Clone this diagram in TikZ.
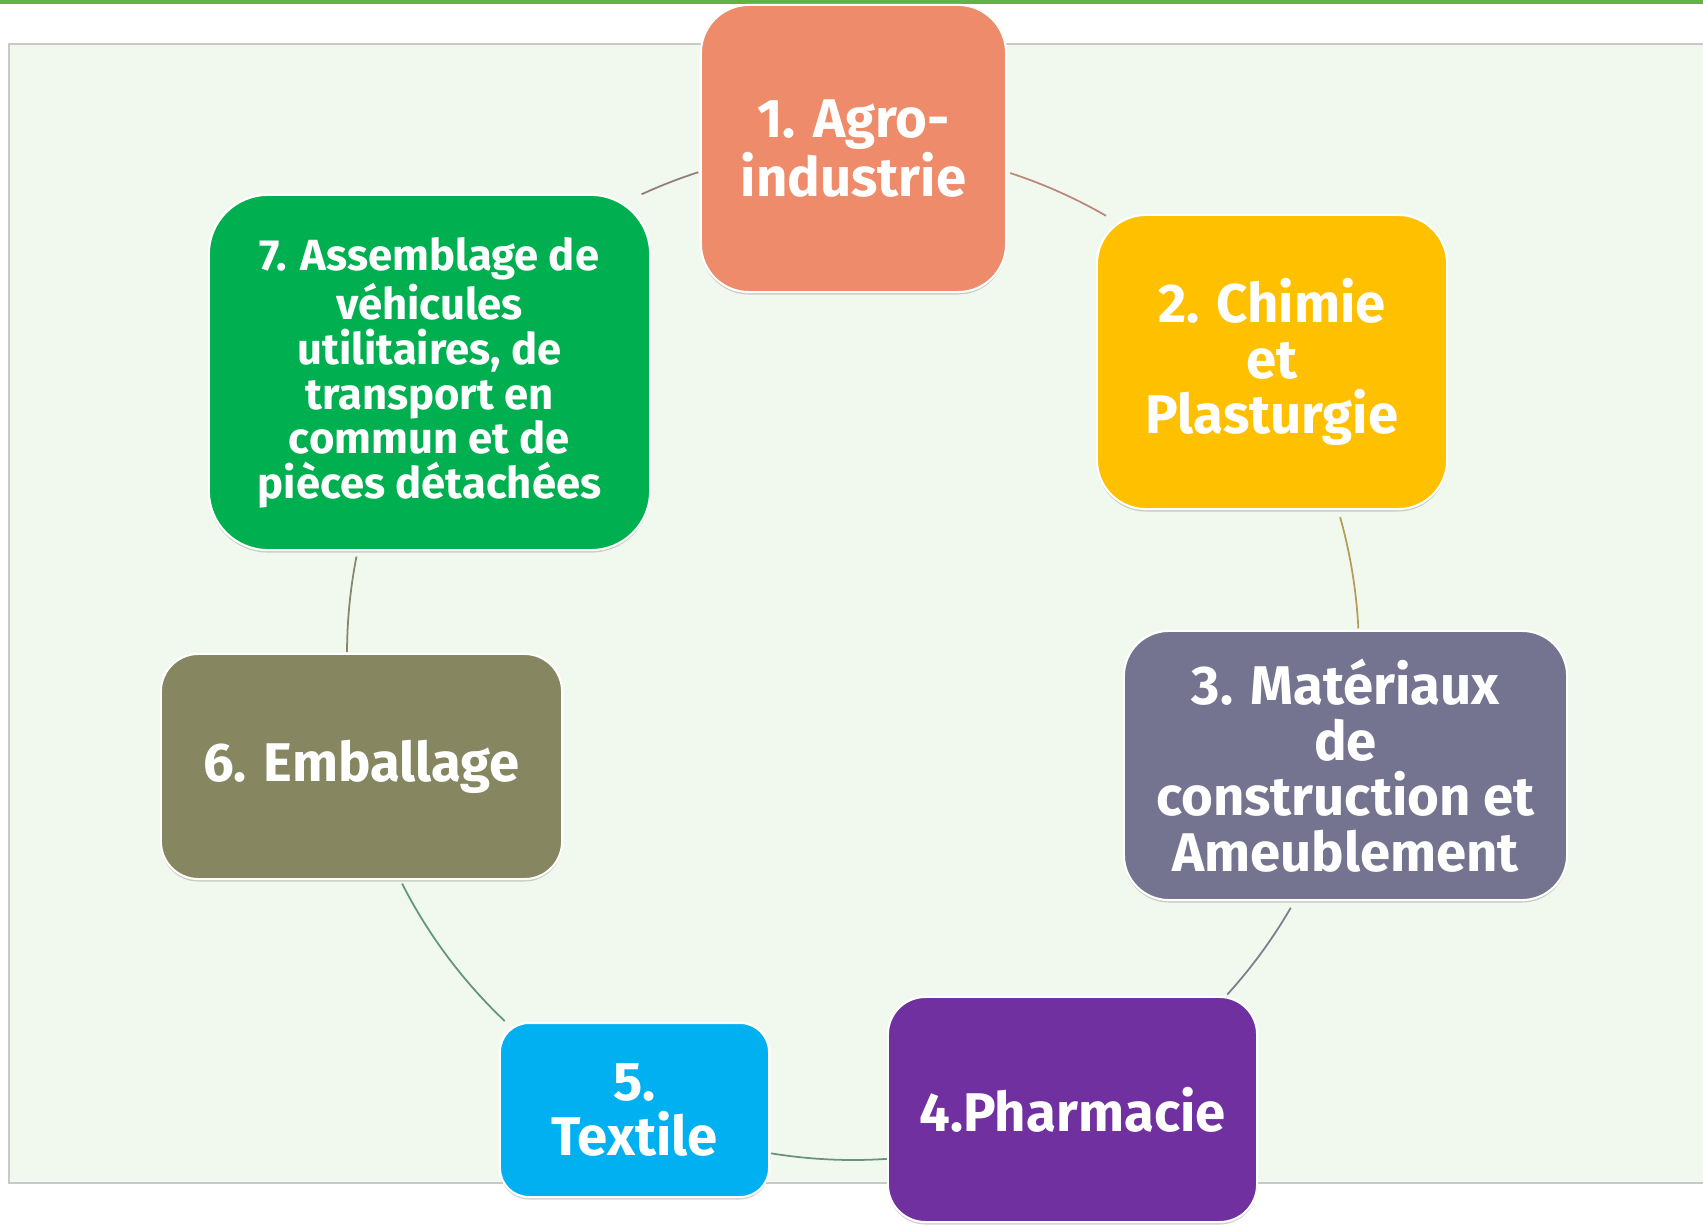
\documentclass[tikz,border=0pt]{standalone}
\usepackage{fontspec}
\setmainfont{Fira Sans}
\usetikzlibrary{calc,shadows}
\definecolor{cA}{HTML}{EE8B6A}
\definecolor{cB}{HTML}{FFC000}
\definecolor{cC}{HTML}{757490}
\definecolor{cD}{HTML}{7030A0}
\definecolor{cE}{HTML}{00B0F0}
\definecolor{cF}{HTML}{868660}
\definecolor{cG}{HTML}{00B050}
\definecolor{topgreen}{HTML}{62B346}
\definecolor{bgfill}{HTML}{F1F9EE}
\definecolor{bgline}{HTML}{C9C9C9}
\definecolor{arcgray}{HTML}{8E8A86}
\begin{document}
\begin{tikzpicture}[x=0.01cm,y=0.01cm,
  box/.style={draw=white, line width=0.6pt, text=white, align=center, inner sep=0pt,
    font=\bfseries\fontsize{15.5}{15.8}\selectfont,
    drop shadow={shadow xshift=0pt, shadow yshift=-0.7pt, opacity=0.3, fill=black!60}},
  smallbox/.style={box, font=\bfseries\fontsize{12.4}{12.7}\selectfont},
  cyclearc/.style={draw=arcgray, line width=0.5pt}]
\useasboundingbox (0,0) rectangle (1703,-1225);
\fill[white] (0,0) rectangle (1703,-1225);
% background panel
\fill[bgfill] (9,-44) rectangle (1720,-1183);
\draw[bgline, line width=0.6pt] (9,-44) rectangle (1720,-1183);
% top green bar
\fill[topgreen] (0,0) rectangle (1703,-4.5);
% circle centre and arc end points
\coordinate (c) at (853,-654);
\foreach \nm/\ang in {a12s/71.9, a23s/15.7, a34s/-30.1, a45s/-86.0, a56s/226.5, a67s/179.8, a71s/114.7}
  \coordinate (\nm) at ($(c)+(\ang:506)$);
\draw[cyclearc, draw=cA!45!arcgray] (a12s) arc[start angle=71.9, end angle=60.0, radius=5.06cm];
\draw[cyclearc, draw=cB!35!arcgray] (a23s) arc[start angle=15.7, end angle=2.9, radius=5.06cm];
\draw[cyclearc, draw=cC!60!arcgray] (a34s) arc[start angle=-30.1, end angle=-42.3, radius=5.06cm];
\draw[cyclearc, draw=cG!25!arcgray] (a45s) arc[start angle=-86.0, end angle=-99.3, radius=5.06cm];
\draw[cyclearc, draw=cG!30!arcgray] (a56s) arc[start angle=226.5, end angle=207.0, radius=5.06cm];
\draw[cyclearc, draw=cF!70!arcgray] (a67s) arc[start angle=179.8, end angle=168.9, radius=5.06cm];
\draw[cyclearc, draw=cA!30!black!60] (a71s) arc[start angle=114.7, end angle=107.8, radius=5.06cm];
% nodes
\node[box, fill=cA, minimum width=3.05cm, minimum height=2.87cm, rounded corners=0.48cm]
  (n1) at (853.5,-148.5) {1. Agro-\\industrie};
\node[box, fill=cB, minimum width=3.50cm, minimum height=2.94cm, rounded corners=0.49cm]
  (n2) at (1272,-362) {2. Chimie\\et\\Plasturgie};
\node[box, fill=cC, minimum width=4.43cm, minimum height=2.69cm, rounded corners=0.45cm]
  (n3) at (1345.5,-765.5) {3. Matériaux\\de\\construction et\\Ameublement};
\node[box, fill=cD, minimum width=3.69cm, minimum height=2.25cm, rounded corners=0.375cm]
  (n4) at (1072.5,-1109.5) {4.Pharmacie};
\node[box, fill=cE, minimum width=2.69cm, minimum height=1.74cm, rounded corners=0.29cm]
  (n5) at (634.5,-1110) {5.\\Textile};
\node[box, fill=cF, minimum width=4.01cm, minimum height=2.25cm, rounded corners=0.375cm]
  (n6) at (361.5,-766.5) {6. Emballage};
\node[smallbox, fill=cG, minimum width=4.41cm, minimum height=3.55cm, rounded corners=0.59cm]
  (n7) at (429.5,-372.5) {7. Assemblage de\\véhicules\\utilitaires, de\\transport en\\commun et de\\pièces détachées};
\end{tikzpicture}
\end{document}
